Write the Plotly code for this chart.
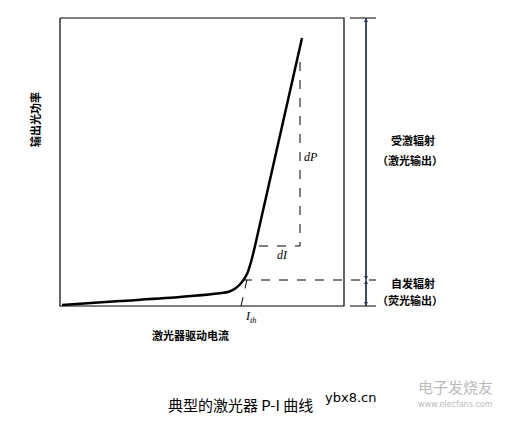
import plotly.graph_objects as go

# diagram drawn in pixel-space coordinates of the 509x423 image
curve_x = [62, 120, 180, 228, 236, 242, 247, 251, 255, 302]
curve_y = [305, 301, 297, 292, 288, 282, 274, 262, 246, 38]
ext_x = [241, 251]
ext_y = [306, 262]
dp_x = [300, 300, 255]
dp_y = [62, 246, 246]
spont_x = [243, 376]
spont_y = [280, 280]
box_x = [60, 344, 344, 60, 60]
box_y = [18, 18, 306, 306, 18]

fig = go.Figure()
fig.add_trace(go.Scatter(x=box_x, y=box_y, mode="lines", line=dict(color="black", width=1.2)))
fig.add_trace(go.Scatter(x=curve_x, y=curve_y, mode="lines", line=dict(color="black", width=2.5, shape="spline", smoothing=0.6)))
fig.add_trace(go.Scatter(x=ext_x, y=ext_y, mode="lines", line=dict(color="black", width=1, dash="dash")))
fig.add_trace(go.Scatter(x=dp_x, y=dp_y, mode="lines", line=dict(color="black", width=1, dash="dash")))
fig.add_trace(go.Scatter(x=spont_x, y=spont_y, mode="lines", line=dict(color="black", width=1, dash="dash")))
for yy in [18, 306]:
    fig.add_trace(go.Scatter(x=[350, 376], y=[yy, yy], mode="lines", line=dict(color="black", width=1)))
fig.add_trace(go.Scatter(x=[366, 366], y=[18, 306], mode="lines", line=dict(color="black", width=1)))

for y0, y1 in [(18, 280), (280, 306)]:
    for a, b in [(y0, y1), (y1, y0)]:
        fig.add_annotation(x=366, y=a, ax=366, ay=b, xref="x", yref="y", axref="x", ayref="y",
                           showarrow=True, arrowhead=2, arrowsize=0.8, arrowwidth=1, text="")

cjk = "Noto Sans CJK SC"
texts = [
    (311, 157, "<i>dP</i>", 12, "Liberation Serif"),
    (282, 255, "<i>dI</i>", 12, "Liberation Serif"),
    (251, 317, "<i>I<sub>th</sub></i>", 12, "Liberation Serif"),
    (413, 140, "<b>受激辐射</b>", 11, cjk),
    (410, 160, "<b>（激光输出）</b>", 11, cjk),
    (413, 283, "<b>自发辐射</b>", 11, cjk),
    (410, 300, "<b>（荧光输出）</b>", 11, cjk),
    (190, 335, "<b>激光器驱动电流</b>", 11, cjk),
    (240, 404, "典型的激光器 P-I 曲线", 15, cjk),
    (350, 397, "ybx8.cn", 13, "DejaVu Sans"),
    (455, 386, "电子发烧友", 15, cjk),
    (455, 404, "www.elecfans.com", 8, "DejaVu Sans"),
]
for x, y, t, s, f in texts:
    col = "#bbbbbb" if t in ("电子发烧友", "www.elecfans.com") else "black"
    fig.add_annotation(x=x, y=y, text=t, showarrow=False, font=dict(size=s, family=f, color=col))
fig.add_annotation(x=35, y=120, text="<b>输出光功率</b>", textangle=-90, showarrow=False,
                   font=dict(size=11, family=cjk, color="black"))

fig.update_layout(width=509, height=423, margin=dict(l=0, r=0, t=0, b=0), showlegend=False,
                  plot_bgcolor="white", paper_bgcolor="white")
fig.update_xaxes(range=[8, 517], visible=False)
fig.update_yaxes(range=[431, 8], visible=False)
fig.write_html("out.html")
